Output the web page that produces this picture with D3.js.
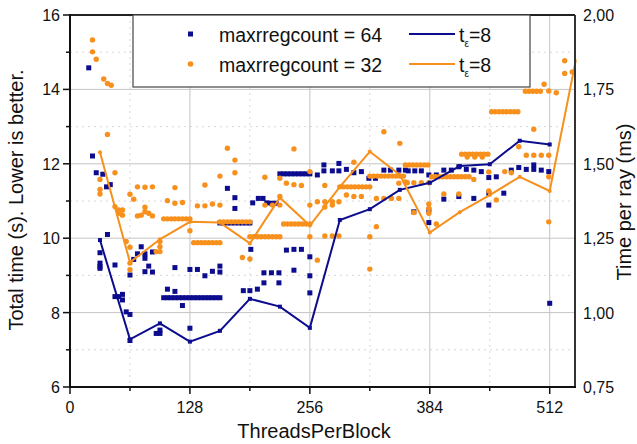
<!DOCTYPE html>
<html><head><meta charset="utf-8">
<script src="https://cdn.jsdelivr.net/npm/d3@7"></script>
<style>body{margin:0;background:#fff;}svg{display:block;font-family:Arial,"Liberation Sans",sans-serif;}</style>
</head><body><svg id="c" width="637" height="444"></svg>
<script>
// ---- data ----
const xTicks = [0, 128, 256, 384, 512];
const xMinor = [64, 192, 320, 448];
const yTicks = [6, 8, 10, 12, 14, 16];
const yMinor = [7, 9, 11, 13, 15];
const yRightTicks = ["0,75", "1,00", "1,25", "1,50", "1,75", "2,00"];
const yRightVals = [0.75, 1.0, 1.25, 1.5, 1.75, 2.0];

const lineX64 = [32,64,96,128,160,192,224,256,288,320,352,384,416,448,480,512];
const lineY64 = [9.95,7.28,7.71,7.22,7.51,8.37,8.16,7.59,10.49,10.78,11.30,11.49,11.94,11.99,12.62,12.52];
const lineX32 = [32,64,96,128,160,192,224,256,288,320,352,384,416,448,480,512,540];
const lineY32 = [12.31,9.35,9.97,10.44,10.42,9.86,11.09,10.34,11.38,12.33,11.70,10.15,10.70,11.16,11.65,11.27,14.80];

const points64 = [
[20,14.58],[24,12.21],[28,11.76],[35,11.72],[39,11.38],[43,11.44],[40,10.10],[32,9.61],[32,9.33],[32,9.24],[32,9.19],
[48,9.28],[48,8.43],[52,8.43],[56,8.49],[56,8.34],[60,8.02],[64,7.95],[64,9.01],[64,7.25],[68,9.43],[72,9.58],[76,9.77],
[80,9.58],[80,9.46],[80,9.10],[84,9.25],[88,9.09],[88,9.63],[92,7.44],[96,7.44],[96,7.53],[104,8.63],[112,8.57],[112,9.21],[120,8.19],
[100,8.40],[104,8.40],[108,8.40],[112,8.40],[116,8.40],[120,8.40],[124,8.40],[128,8.40],[132,8.40],[136,8.40],[140,8.40],[144,8.40],[148,8.40],[152,8.40],[156,8.40],[160,8.40],
[128,9.16],[136,9.16],[144,8.99],[152,9.11],[160,9.09],[160,9.25],[128,7.58],[168,11.34],[176,11.09],[176,10.80],
[160,10.41],[164,10.41],[168,10.41],[172,10.41],[176,10.41],[180,10.41],[184,10.41],[188,10.41],[192,10.41],
[193,9.70],[185,8.59],[192,8.59],[200,8.63],[207,8.80],[207,9.07],[215,9.07],[223,9.07],[223,8.80],[231,9.68],[239,9.70],[247,9.70],[239,9.14],
[256,9.50],[256,8.99],[256,8.53],
[195,10.95],[201,11.07],[206,11.07],[210,10.95],[215,10.94],[220,10.94],
[224,11.73],[228,11.73],[232,11.73],[236,11.73],[240,11.73],[244,11.73],[248,11.73],[252,11.73],[256,11.73],
[264,11.70],[271,11.97],[271,11.81],[280,11.81],[287,12.01],[287,11.81],[295,11.85],[303,11.76],[311,11.79],[319,11.61],[326,11.61],
[335,11.83],[342,11.83],[351,11.83],[358,11.83],[361,11.81],[368,11.81],[375,11.81],[367,10.71],[383,11.70],[383,10.76],[383,10.42],
[391,11.70],[399,11.83],[399,11.05],[407,11.83],[415,11.12],[415,11.92],[423,11.85],[431,11.83],[431,11.07],[439,11.79],
[447,11.63],[447,11.21],[447,10.89],[455,11.65],[463,11.21],[471,11.83],[479,11.90],[487,11.85],[495,11.97],[495,11.85],
[503,11.83],[511,11.79],[512,8.25]
];

const points32 = [
[24,15.33],[24,15.01],[28,14.81],[36,14.28],[40,14.16],[44,14.11],[40,12.79],[32,11.58],[32,11.31],[32,11.19],[48,11.76],
[48,10.85],[52,10.76],[56,10.76],[56,10.62],[52,10.67],[60,9.91],[64,9.76],[64,9.33],[64,9.15],[64,11.18],[68,11.05],
[72,11.38],[80,11.37],[88,11.38],[72,10.60],[76,10.62],[80,10.83],[80,10.71],[84,10.67],[88,10.60],[92,9.64],[96,9.64],
[96,9.77],[96,9.91],[104,11.01],[112,10.94],[120,10.96],[112,11.36],
[100,10.52],[104,10.52],[108,10.52],[112,10.52],[116,10.52],[120,10.52],[124,10.52],[128,10.52],
[128,10.20],[136,10.87],[144,10.87],[152,10.92],[160,10.89],[144,11.43],[160,11.67],[168,12.42],[176,12.10],[176,11.76],
[132,9.88],[136,9.88],[140,9.88],[144,9.88],[148,9.88],[152,9.88],[156,9.88],[160,9.88],
[160,10.44],[164,10.44],[168,10.44],[172,10.44],[176,10.44],[180,10.44],[184,10.44],[188,10.44],[192,10.44],
[184,9.48],[192,9.44],
[192,10.04],[196,10.04],[200,10.04],[204,10.04],[208,10.04],[212,10.04],[216,10.04],[220,10.04],[224,10.04],
[208,10.89],[216,10.89],[224,10.89],[224,11.12],[208,11.64],[224,11.61],[231,11.48],[239,11.44],[247,11.42],[239,12.40],
[228,10.38],[232,10.38],[236,10.38],[240,10.38],[244,10.38],[248,10.38],[252,10.38],[256,10.38],
[256,11.79],[256,10.04],[264,9.41],[256,10.89],[264,10.98],[272,10.98],[272,10.84],[280,10.98],[280,10.89],[287,10.98],
[272,11.42],[272,10.06],[280,10.06],[287,10.06],
[288,11.38],[292,11.38],[296,11.38],[300,11.38],[304,11.38],[308,11.38],[312,11.38],[316,11.38],[320,11.38],
[295,11.16],[303,11.12],[311,11.12],[303,12.04],[320,10.04],[320,9.17],[327,10.31],[335,12.86],[352,12.55],
[320,11.67],[324,11.67],[328,11.67],[332,11.67],[336,11.67],[340,11.67],[344,11.67],[348,11.67],[352,11.67],[356,11.67],
[327,11.07],[335,11.07],[343,11.07],[351,11.07],[351,11.48],[358,11.97],[358,11.51],
[362,11.97],[366,11.97],[370,11.97],[374,11.97],[378,11.97],[382,11.97],
[360,11.49],[367,11.49],[375,11.49],[383,11.49],[367,10.69],[383,10.92],[383,10.80],[383,10.67],[391,10.38],
[386,11.65],[390,11.65],[394,11.65],[398,11.65],[402,11.65],[406,11.65],[410,11.65],[414,11.65],[418,11.65],[422,11.65],[426,11.65],
[399,11.19],[415,11.19],
[418,12.26],[422,12.26],[426,12.26],[430,12.26],[434,12.26],[438,12.26],[442,12.26],[446,12.26],[424,12.18],[432,12.18],[440,12.18],
[431,11.58],[447,11.78],[447,11.27],[455,11.03],
[450,13.40],[454,13.40],[458,13.40],[462,13.40],[466,13.40],[470,13.40],[474,13.40],[478,13.40],
[464,11.79],[471,11.76],[479,12.46],[487,12.23],[495,12.23],[503,12.23],[511,12.23],[495,12.93],[511,11.65],[511,10.44],
[486,13.95],[490,13.95],[494,13.95],[498,13.95],[502,13.95],[506,14.14],[511,13.96],[519,13.91],[528,14.77],[528,14.43],[536,14.47]
];

const legendLabels = ["maxrregcount = 64", "maxrregcount = 32"];
const colors = {c64: "#0c0c8e", c32: "#f7901c"};

// ---- chart ----
const svg = d3.select("#c");
svg.append("rect").attr("width",637).attr("height",444).attr("fill","#fff");
const L = 70, R = 575, T = 15, B = 387;
const x = d3.scaleLinear().domain([0, 539]).range([L, R]);
const y = d3.scaleLinear().domain([6, 16]).range([B, T]);
const yR = d3.scaleLinear().domain([0.75, 2.0]).range([B, T]);

const g = svg.append("g");
// grid
g.selectAll(".gmx").data(xMinor).join("line").attr("x1",d=>x(d)).attr("x2",d=>x(d)).attr("y1",T).attr("y2",B)
  .attr("stroke","#d8d8d8").attr("stroke-dasharray","2,4");
g.selectAll(".gmy").data(yMinor).join("line").attr("y1",d=>y(d)).attr("y2",d=>y(d)).attr("x1",L).attr("x2",R)
  .attr("stroke","#d8d8d8").attr("stroke-dasharray","2,4");
g.selectAll(".gx").data(xTicks.filter(d=>d>0)).join("line").attr("x1",d=>x(d)).attr("x2",d=>x(d)).attr("y1",T).attr("y2",B)
  .attr("stroke","#c4c4c4");
g.selectAll(".gy").data(yTicks.filter(d=>d>6&&d<16)).join("line").attr("y1",d=>y(d)).attr("y2",d=>y(d)).attr("x1",L).attr("x2",R)
  .attr("stroke","#c4c4c4");

// scatter
g.selectAll(".p64").data(points64).join("rect")
  .attr("x",d=>x(d[0])-2.5).attr("y",d=>y(d[1])-2.5).attr("width",5).attr("height",5).attr("fill",colors.c64);
g.selectAll(".p32").data(points32).join("circle")
  .attr("cx",d=>x(d[0])).attr("cy",d=>y(d[1])).attr("r",2.7).attr("fill",colors.c32);

// lines
const l64 = lineX64.map((d,i)=>[d,lineY64[i]]);
const l32 = lineX32.map((d,i)=>[d,lineY32[i]]);
const line = d3.line().x(d=>x(d[0])).y(d=>y(d[1]));
g.append("path").datum(l64).attr("d",line).attr("fill","none").attr("stroke",colors.c64).attr("stroke-width",2);
g.selectAll(".v64").data(l64).join("rect").attr("x",d=>x(d[0])-2).attr("y",d=>y(d[1])-2).attr("width",4).attr("height",4).attr("fill",colors.c64);
g.append("path").datum(l32).attr("d",line).attr("fill","none").attr("stroke",colors.c32).attr("stroke-width",2);
g.selectAll(".v32").data(l32.slice(0,-1)).join("circle").attr("cx",d=>x(d[0])).attr("cy",d=>y(d[1])).attr("r",2).attr("fill",colors.c32);

// frame
svg.append("line").attr("x1",L).attr("x2",R).attr("y1",T).attr("y2",T).attr("stroke","#222").attr("stroke-width",2);
svg.append("line").attr("x1",R).attr("x2",R).attr("y1",T).attr("y2",B).attr("stroke","#333").attr("stroke-width",2);

// axes
const fnt = 16;
const ax = svg.append("g");
ax.append("line").attr("x1",L-1).attr("x2",R+1).attr("y1",B).attr("y2",B).attr("stroke","#111").attr("stroke-width",2);
ax.append("line").attr("x1",L).attr("x2",L).attr("y1",T-1).attr("y2",B+1).attr("stroke","#111").attr("stroke-width",2);
ax.selectAll(".tx").data(xTicks).join("line").attr("x1",d=>x(d)).attr("x2",d=>x(d)).attr("y1",B).attr("y2",B+7).attr("stroke","#111").attr("stroke-width",1.5);
ax.selectAll(".tmx").data(xMinor).join("line").attr("x1",d=>x(d)).attr("x2",d=>x(d)).attr("y1",B).attr("y2",B+4).attr("stroke","#111").attr("stroke-width",1.5);
ax.selectAll(".lx").data(xTicks).join("text").attr("x",d=>x(d)).attr("y",413).attr("text-anchor","middle")
  .attr("font-size",fnt).attr("fill","#111").text(d=>d);
ax.selectAll(".ty").data(yTicks).join("line").attr("x1",L-7).attr("x2",L).attr("y1",d=>y(d)).attr("y2",d=>y(d)).attr("stroke","#111").attr("stroke-width",1.5);
ax.selectAll(".tmy").data(yMinor).join("line").attr("x1",L-4).attr("x2",L).attr("y1",d=>y(d)).attr("y2",d=>y(d)).attr("stroke","#111").attr("stroke-width",1.5);
ax.selectAll(".ly").data(yTicks).join("text").attr("x",60).attr("y",d=>y(d)+6).attr("text-anchor","end")
  .attr("font-size",fnt).attr("fill","#111").text(d=>d);
ax.selectAll(".lyr").data(yRightVals).join("text").attr("x",583).attr("y",d=>yR(d)+6)
  .attr("font-size",fnt).attr("fill","#111").text((d,i)=>yRightTicks[i]);

// titles
svg.append("text").attr("transform","translate(23,200) rotate(-90)").attr("text-anchor","middle")
  .attr("font-size",20).attr("fill","#111").text("Total time (s). Lower is better.");
svg.append("text").attr("transform","translate(631,202) rotate(-90)").attr("text-anchor","middle")
  .attr("font-size",20).attr("fill","#111").text("Time per ray (ms)");
svg.append("text").attr("x",314).attr("y",438).attr("text-anchor","middle")
  .attr("font-size",20).attr("fill","#111").text("ThreadsPerBlock");

// legend
const lg = svg.append("g");
lg.append("rect").attr("x",133).attr("y",15).attr("width",397).attr("height",72).attr("fill","#fff").attr("stroke","#444").attr("stroke-width",1.2);
const rowsY = [34, 64];
lg.append("rect").attr("x",188).attr("y",rowsY[0]-2.5).attr("width",5).attr("height",5).attr("fill",colors.c64);
lg.append("circle").attr("cx",190.5).attr("cy",rowsY[1]).attr("r",2.8).attr("fill",colors.c32);
legendLabels.forEach((t,i)=>{
  lg.append("text").attr("x",219).attr("y",rowsY[i]+7.5).attr("font-size",19.5).attr("fill","#111").text(t);
});
[colors.c64, colors.c32].forEach((c,i)=>{
  lg.append("line").attr("x1",409).attr("x2",455).attr("y1",rowsY[i]).attr("y2",rowsY[i]).attr("stroke",c).attr("stroke-width",2);
  const tt = lg.append("text").attr("x",459).attr("y",rowsY[i]+7.5).attr("font-size",19.5).attr("fill","#111");
  tt.append("tspan").text("t");
  tt.append("tspan").attr("font-size",10).attr("dy",5).text("ε");
  tt.append("tspan").attr("dy",-5).text("=8");
});
</script></body></html>
